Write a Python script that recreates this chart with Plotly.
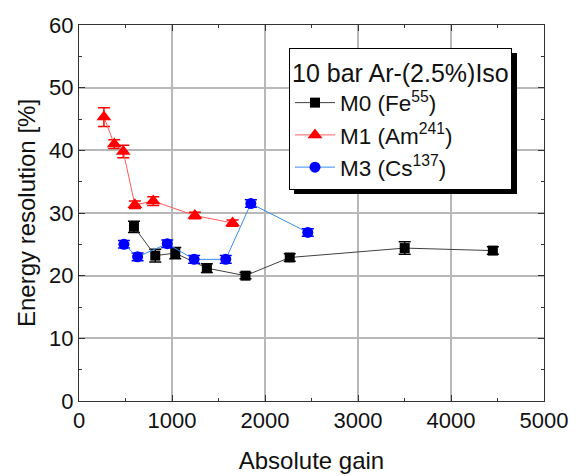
import plotly.graph_objects as go

# Data
m0_gain = [591, 820, 1035, 1375, 1790, 2266, 3502, 4450]
m0_res = [27.8, 23.2, 23.6, 21.2, 20.0, 22.9, 24.4, 24.0]
m0_err = [0.9, 1.0, 0.9, 0.7, 0.5, 0.6, 1.0, 0.6]

m1_gain = [268, 379, 476, 601, 798, 1246, 1651]
m1_res = [45.3, 41.0, 39.8, 31.3, 31.9, 29.6, 28.4]
m1_err = [1.5, 0.7, 1.0, 0.6, 0.7, 0.5, 0.5]

m3_gain = [483, 630, 949, 1238, 1578, 1848, 2460]
m3_res = [25.0, 23.0, 25.1, 22.6, 22.6, 31.5, 26.9]
m3_err = [0.6, 0.6, 0.6, 0.6, 0.6, 0.6, 0.6]

names = ["M0 (Fe<sup>55</sup>)", "M1 (Am<sup>241</sup>)", "M3 (Cs<sup>137</sup>)"]
legend_title = "10 bar Ar-(2.5%)Iso"

FONT = "Liberation Sans, Arial, sans-serif"

# page body has an 8px margin -> shrink figure so it fits the window
W, H = 568, 468
ML, MR, MT, MB = 71, 32, 17, 75
PW, PH = W - ML - MR, H - MT - MB


def px_x(v):  # figure-pixel -> paper x
    return (v - ML) / PW


def px_y(v):  # figure-pixel -> paper y
    return 1 - (v - MT) / PH


fig = go.Figure()

series = [
    (m0_gain, m0_res, m0_err, names[0], "#000000", "#404040", "square", 10),
    (m1_gain, m1_res, m1_err, names[1], "#ff0000", "#ff5a5a", "triangle-up", 13),
    (m3_gain, m3_res, m3_err, names[2], "#0000ff", "#3a8cf0", "circle", 11),
]
for i, (x, y, e, name, mc, lc, sym, sz) in enumerate(series):
    fig.add_trace(go.Scatter(
        x=x, y=y, name=name, mode="lines+markers",
        line=dict(color=lc, width=1),
        marker=dict(color=mc, symbol=sym, size=sz, line=dict(width=0)),
        error_y=dict(type="data", array=e, visible=True, color=mc, thickness=1.5, width=6),
    ))

# legend box position (figure pixels)
LB_L, LB_T, LB_R, LB_B = 281, 40, 504, 181
SH = 5
fig.add_shape(type="rect", xref="paper", yref="paper",
              x0=px_x(LB_L + SH), x1=px_x(LB_R + SH),
              y0=px_y(LB_B + SH), y1=px_y(LB_T + SH),
              fillcolor="black", line=dict(width=0), layer="above")

axis_common = dict(
    showline=True, linecolor="#333333", linewidth=1, mirror="ticks",
    ticks="inside", ticklen=6, tickcolor="#333333", tickwidth=1,
    showgrid=True, gridcolor="#b8b8b8", gridwidth=1.5, zeroline=False,
    automargin=False,
    tickfont=dict(family=FONT, size=22, color="#111111"),
)

fig.update_xaxes(
    range=[0, 5000], dtick=1000, tick0=0,
    minor=dict(dtick=500, ticks="inside", ticklen=3, tickcolor="#333333", showgrid=False),
    title=dict(text="Absolute gain", font=dict(family=FONT, size=24, color="#111111"), standoff=19),
    **axis_common,
)
fig.update_yaxes(
    range=[0, 60], dtick=10, tick0=0,
    minor=dict(dtick=5, ticks="inside", ticklen=3, tickcolor="#333333", showgrid=False),
    title=dict(text="Energy resolution [%]", font=dict(family=FONT, size=24, color="#111111"), standoff=6),
    **axis_common,
)

fig.update_layout(
    width=W, height=H,
    margin=dict(l=ML, r=MR, t=MT, b=MB),
    paper_bgcolor="white", plot_bgcolor="white",
    font=dict(family=FONT, color="#111111"),
    showlegend=True,
    legend=dict(
        x=px_x(LB_L), y=px_y(LB_T), xanchor="left", yanchor="top",
        bgcolor="white", bordercolor="black", borderwidth=1,
        font=dict(family=FONT, size=22.5, color="#111111"),
        title=dict(text=legend_title, font=dict(family=FONT, size=25, color="#111111")),
        tracegroupgap=0, itemwidth=40,
    ),
)

fig.write_html("out.html")
